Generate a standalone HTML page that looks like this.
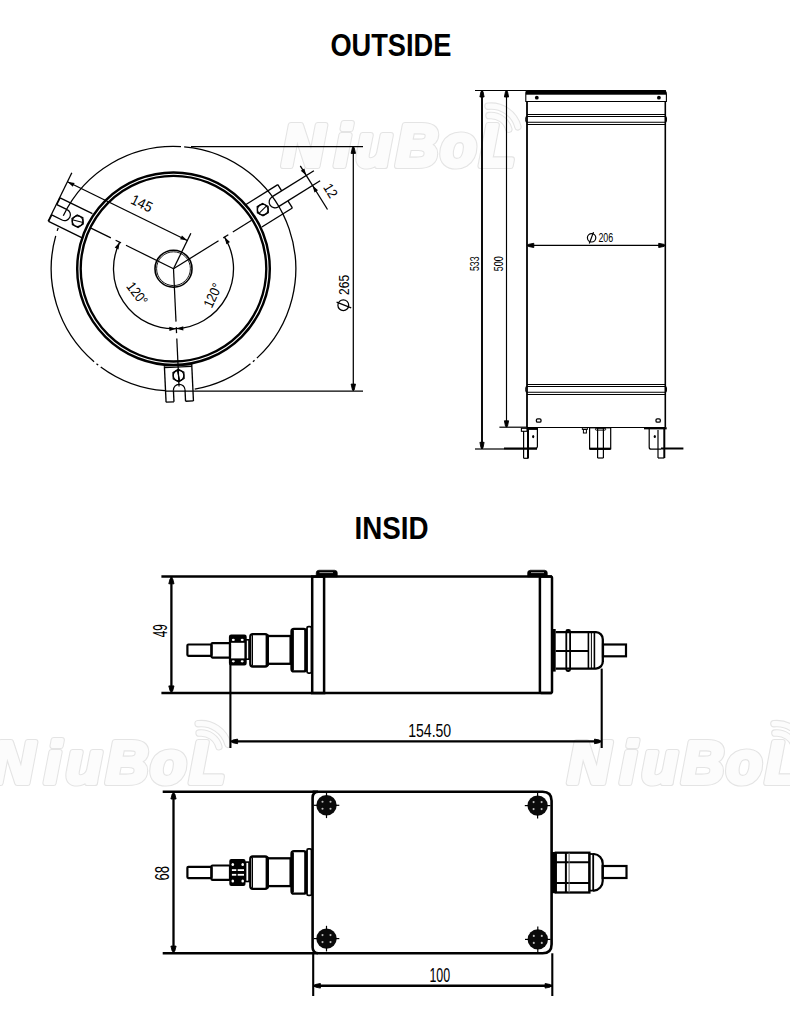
<!DOCTYPE html>
<html><head><meta charset="utf-8"><style>
html,body{margin:0;padding:0;background:#fff;}
svg{display:block;font-family:"Liberation Sans",sans-serif;}
</style></head><body>
<svg width="790" height="1034" viewBox="0 0 790 1034">
<rect width="790" height="1034" fill="#fff"/>
<g stroke="#000" fill="none">
<g>
<path d="M489.0,115.6 A18.5,18.5 0 0 1 508.8,129.2" stroke="#e4e4e4" stroke-width="7.5" fill="none" stroke-linecap="round"/>
<path d="M489.0,115.6 A18.5,18.5 0 0 1 508.8,129.2" stroke="#fcfcfc" stroke-width="5.3" fill="none" stroke-linecap="round"/>
<path d="M488.0,106.2 A28,28 0 0 1 517.9,126.8" stroke="#e4e4e4" stroke-width="7.5" fill="none" stroke-linecap="round"/>
<path d="M488.0,106.2 A28,28 0 0 1 517.9,126.8" stroke="#fcfcfc" stroke-width="5.3" fill="none" stroke-linecap="round"/>
<text x="281.9 334.4 355.9 395.9 440.4 479.4" y="165.5" font-size="58.6" font-weight="bold" font-style="italic" fill="#e4e4e4" stroke="#e4e4e4" stroke-width="6.2" stroke-linejoin="round">NiuBoL</text>
<text x="281.9 334.4 355.9 395.9 440.4 479.4" y="165.5" font-size="58.6" font-weight="bold" font-style="italic" fill="#fcfcfc" stroke="#fcfcfc" stroke-width="4" stroke-linejoin="round">NiuBoL</text>
</g>
<g>
<path d="M199.1,733.1 A18.5,18.5 0 0 1 218.9,746.7" stroke="#e4e4e4" stroke-width="7.5" fill="none" stroke-linecap="round"/>
<path d="M199.1,733.1 A18.5,18.5 0 0 1 218.9,746.7" stroke="#fcfcfc" stroke-width="5.3" fill="none" stroke-linecap="round"/>
<path d="M198.1,723.7 A28,28 0 0 1 228.0,744.3" stroke="#e4e4e4" stroke-width="7.5" fill="none" stroke-linecap="round"/>
<path d="M198.1,723.7 A28,28 0 0 1 228.0,744.3" stroke="#fcfcfc" stroke-width="5.3" fill="none" stroke-linecap="round"/>
<text x="-8.0 44.5 66.0 106.0 150.5 189.5" y="783" font-size="58.6" font-weight="bold" font-style="italic" fill="#e4e4e4" stroke="#e4e4e4" stroke-width="6.2" stroke-linejoin="round">NiuBoL</text>
<text x="-8.0 44.5 66.0 106.0 150.5 189.5" y="783" font-size="58.6" font-weight="bold" font-style="italic" fill="#fcfcfc" stroke="#fcfcfc" stroke-width="4" stroke-linejoin="round">NiuBoL</text>
</g>
<g>
<path d="M774.9,733.1 A18.5,18.5 0 0 1 794.7,746.7" stroke="#e4e4e4" stroke-width="7.5" fill="none" stroke-linecap="round"/>
<path d="M774.9,733.1 A18.5,18.5 0 0 1 794.7,746.7" stroke="#fcfcfc" stroke-width="5.3" fill="none" stroke-linecap="round"/>
<path d="M773.9,723.7 A28,28 0 0 1 803.8,744.3" stroke="#e4e4e4" stroke-width="7.5" fill="none" stroke-linecap="round"/>
<path d="M773.9,723.7 A28,28 0 0 1 803.8,744.3" stroke="#fcfcfc" stroke-width="5.3" fill="none" stroke-linecap="round"/>
<text x="567.8 620.3 641.8 681.8 726.3 765.3" y="783" font-size="58.6" font-weight="bold" font-style="italic" fill="#e4e4e4" stroke="#e4e4e4" stroke-width="6.2" stroke-linejoin="round">NiuBoL</text>
<text x="567.8 620.3 641.8 681.8 726.3 765.3" y="783" font-size="58.6" font-weight="bold" font-style="italic" fill="#fcfcfc" stroke="#fcfcfc" stroke-width="4" stroke-linejoin="round">NiuBoL</text>
</g>
<text x="330.40" y="55.80" font-size="30.5" font-weight="bold" text-anchor="start" textLength="121" lengthAdjust="spacingAndGlyphs"  fill="#000" stroke="none" stroke="#000" stroke-width="0.9">OUTSIDE</text>
<text x="354.60" y="538.60" font-size="30.5" font-weight="bold" text-anchor="start" textLength="74" lengthAdjust="spacingAndGlyphs"  fill="#000" stroke="none" stroke="#000" stroke-width="0.9">INSID</text>
<path d="M184.16,146.87 A122.3,122.3 0 0 1 256.91,358.14" stroke-width="1.3" fill="none" />
<path d="M254.54,360.30 A122.3,122.3 0 0 1 252.93,361.70" stroke-width="1.3" fill="none" />
<path d="M250.47,363.74 A122.3,122.3 0 0 1 194.74,389.14" stroke-width="1.3" fill="none" />
<path d="M164.97,390.70 A122.3,122.3 0 0 1 100.75,367.01" stroke-width="1.3" fill="none" />
<path d="M98.20,365.07 A122.3,122.3 0 0 1 96.53,363.74" stroke-width="1.3" fill="none" />
<path d="M94.07,361.70 A122.3,122.3 0 0 1 55.71,235.81" stroke-width="1.3" fill="none" />
<path d="M57.19,230.91 A122.3,122.3 0 0 1 58.21,227.88" stroke-width="1.3" fill="none" />
<path d="M63.30,215.66 A122.3,122.3 0 0 1 180.97,146.63" stroke-width="1.3" fill="none" />
<circle cx="173.50" cy="268.70" r="96.30" stroke-width="2.45" fill="none" />
<circle cx="173.50" cy="268.70" r="92.80" stroke-width="2.35" fill="none" />
<circle cx="173.50" cy="268.70" r="18.50" stroke-width="1.6" fill="none" />
<circle cx="173.50" cy="268.70" r="16.90" stroke-width="0.9" fill="none" />
<line x1="173.50" y1="268.70" x2="125.95" y2="245.30" stroke-width="1.25" />
<line x1="121.01" y1="242.87" x2="115.63" y2="240.22" stroke-width="1.25" />
<line x1="110.87" y1="237.88" x2="90.95" y2="228.08" stroke-width="1.25" />
<line x1="173.50" y1="268.70" x2="218.54" y2="240.77" stroke-width="1.25" />
<line x1="223.22" y1="237.87" x2="228.32" y2="234.71" stroke-width="1.25" />
<line x1="232.82" y1="231.92" x2="251.69" y2="220.22" stroke-width="1.25" />
<line x1="173.50" y1="268.70" x2="176.00" y2="321.64" stroke-width="1.25" />
<line x1="176.26" y1="327.14" x2="176.54" y2="333.13" stroke-width="1.25" />
<line x1="176.79" y1="338.42" x2="179.06" y2="386.57" stroke-width="1.25" />
<path d="M176.33,328.63 A60,60 0 0 1 119.66,242.21" stroke-width="1.3" fill="none" />
<path d="M224.49,237.08 A60,60 0 0 1 176.33,328.63" stroke-width="1.3" fill="none" />
<path d="M119.66,242.21 L118.46,249.42 L114.69,247.56 Z" fill="#000" stroke="none"/>
<path d="M176.33,328.63 L169.43,331.06 L169.24,326.87 Z" fill="#000" stroke="none"/>
<path d="M224.49,237.08 L229.97,241.93 L226.40,244.14 Z" fill="#000" stroke="none"/>
<path d="M176.33,328.63 L183.22,326.21 L183.42,330.40 Z" fill="#000" stroke="none"/>
<text x="133.40" y="296.50" font-size="14" font-weight="normal" text-anchor="middle" textLength="25" lengthAdjust="spacingAndGlyphs" transform="rotate(53 133.40 296.50)" fill="#000" stroke="none" stroke="#000" stroke-width="0.2">120°</text>
<text x="217.00" y="297.50" font-size="14" font-weight="normal" text-anchor="middle" textLength="25" lengthAdjust="spacingAndGlyphs" transform="rotate(-65 217.00 297.50)" fill="#000" stroke="none" stroke="#000" stroke-width="0.2">120°</text>
<g transform="translate(173.5,268.7) rotate(-32.0)">
<line x1="95.00" y1="-16.00" x2="133.00" y2="-16.00" stroke-width="1.35" />
<line x1="97.00" y1="11.50" x2="133.00" y2="11.50" stroke-width="1.35" />
<line x1="133.00" y1="-16.00" x2="133.00" y2="-8.70" stroke-width="1.35" />
<line x1="133.00" y1="3.10" x2="133.00" y2="11.50" stroke-width="1.35" />
<line x1="121.50" y1="-8.70" x2="171.00" y2="-8.70" stroke-width="1.35" />
<line x1="121.50" y1="3.10" x2="171.00" y2="3.10" stroke-width="1.35" />
<path d="M121.5,-8.7 A5.8999999999999995,5.8999999999999995 0 0 0 121.5,3.1" stroke-width="1.25" fill="none"/>
<polygon points="113.30,-2.80 110.15,2.66 103.85,2.66 100.70,-2.80 103.85,-8.26 110.15,-8.26" stroke-width="1.2" fill="none"/>
<circle cx="107.00" cy="-2.80" r="5.30" stroke-width="1.2" fill="none" />
<line x1="101.50" y1="-1.60" x2="112.50" y2="-4.00" stroke-width="1.0" />
</g>
<g transform="translate(173.5,268.7) rotate(206.1)">
<line x1="95.00" y1="-12.50" x2="133.00" y2="-12.50" stroke-width="1.35" />
<line x1="97.00" y1="13.70" x2="133.00" y2="13.70" stroke-width="1.35" />
<line x1="133.00" y1="-12.50" x2="133.00" y2="-5.30" stroke-width="1.35" />
<line x1="133.00" y1="6.30" x2="133.00" y2="13.70" stroke-width="1.35" />
<line x1="121.50" y1="-5.30" x2="133.00" y2="-5.30" stroke-width="1.35" />
<line x1="121.50" y1="6.30" x2="133.00" y2="6.30" stroke-width="1.35" />
<path d="M121.5,-5.3 A5.8,5.8 0 0 0 121.5,6.3" stroke-width="1.25" fill="none"/>
<polygon points="113.30,0.50 110.15,5.96 103.85,5.96 100.70,0.50 103.85,-4.96 110.15,-4.96" stroke-width="1.2" fill="none"/>
<circle cx="107.00" cy="0.50" r="5.30" stroke-width="1.2" fill="none" />
<line x1="101.50" y1="1.70" x2="112.50" y2="-0.70" stroke-width="1.0" />
</g>
<g transform="translate(173.5,268.7) rotate(87.3)">
<line x1="95.00" y1="-13.70" x2="133.00" y2="-13.70" stroke-width="1.35" />
<line x1="97.00" y1="13.70" x2="133.00" y2="13.70" stroke-width="1.35" />
<line x1="133.00" y1="-13.70" x2="133.00" y2="-5.80" stroke-width="1.35" />
<line x1="133.00" y1="5.80" x2="133.00" y2="13.70" stroke-width="1.35" />
<line x1="96.80" y1="-13.70" x2="96.80" y2="13.70" stroke-width="1.1" />
<line x1="98.40" y1="-13.70" x2="98.40" y2="13.70" stroke-width="1.1" />
<line x1="121.50" y1="-5.80" x2="133.00" y2="-5.80" stroke-width="1.35" />
<line x1="121.50" y1="5.80" x2="133.00" y2="5.80" stroke-width="1.35" />
<path d="M121.5,-5.8 A5.8,5.8 0 0 0 121.5,5.8" stroke-width="1.25" fill="none"/>
<polygon points="113.30,0.00 110.15,5.46 103.85,5.46 100.70,0.00 103.85,-5.46 110.15,-5.46" stroke-width="1.2" fill="none"/>
<circle cx="107.00" cy="0.00" r="5.30" stroke-width="1.2" fill="none" />
<line x1="101.50" y1="1.20" x2="112.50" y2="-1.20" stroke-width="1.0" />
</g>
<line x1="300.29" y1="165.89" x2="327.52" y2="209.48" stroke-width="1.3" />
<path d="M306.27,175.48 L300.78,170.65 L304.34,168.43 Z" fill="#000" stroke="none"/>
<path d="M312.53,185.48 L318.02,190.31 L314.46,192.53 Z" fill="#000" stroke="none"/>
<text x="326.56" y="193.23" font-size="14" font-weight="normal" text-anchor="middle" textLength="14" lengthAdjust="spacingAndGlyphs" transform="rotate(58 326.56 193.23)" fill="#000" stroke="none" stroke="#000" stroke-width="0.3">12</text>
<line x1="48.11" y1="221.19" x2="71.83" y2="172.79" stroke-width="1.3" />
<line x1="173.50" y1="268.70" x2="190.88" y2="233.23" stroke-width="1.3" />
<line x1="187.31" y1="240.50" x2="67.43" y2="181.77" stroke-width="1.3" />
<path d="M67.43,181.77 L74.64,182.98 L72.78,186.74 Z" fill="#000" stroke="none"/>
<path d="M187.31,240.50 L180.11,239.30 L181.96,235.53 Z" fill="#000" stroke="none"/>
<text x="139.60" y="207.80" font-size="14.5" font-weight="normal" text-anchor="middle" textLength="22" lengthAdjust="spacingAndGlyphs" transform="rotate(26 139.60 207.80)" fill="#000" stroke="none" stroke="#000" stroke-width="0.3">145</text>
<line x1="191.00" y1="146.50" x2="363.00" y2="146.50" stroke-width="1.25" />
<line x1="165.00" y1="391.00" x2="363.00" y2="391.00" stroke-width="1.25" />
<line x1="353.30" y1="146.50" x2="353.30" y2="391.00" stroke-width="1.25" />
<polygon points="354.10,147.40 355.50,153.40 351.10,153.40 352.50,147.40" fill="#000" stroke="#000" stroke-width="0.9" stroke-linejoin="round"/>
<polygon points="352.50,390.10 351.10,384.10 355.50,384.10 354.10,390.10" fill="#000" stroke="#000" stroke-width="0.9" stroke-linejoin="round"/>
<text x="349.50" y="294.90" font-size="14.5" font-weight="normal" text-anchor="start" textLength="20" lengthAdjust="spacingAndGlyphs" transform="rotate(-90 349.50 294.90)" fill="#000" stroke="none" stroke="#000" stroke-width="0.3">265</text>
<circle cx="343.30" cy="305.20" r="5.40" stroke-width="1.25" fill="none" />
<line x1="336.60" y1="302.20" x2="351.20" y2="307.90" stroke-width="1.25" />
<line x1="475.00" y1="90.50" x2="526.00" y2="90.50" stroke-width="1.1" />
<line x1="475.00" y1="449.00" x2="504.00" y2="449.00" stroke-width="1.2" />
<line x1="504.00" y1="448.60" x2="537.00" y2="448.60" stroke-width="2.1" />
<line x1="661.00" y1="448.50" x2="683.40" y2="448.50" stroke-width="2.0" />
<line x1="499.40" y1="427.20" x2="527.00" y2="427.20" stroke-width="1.2" />
<line x1="482.00" y1="90.50" x2="482.00" y2="449.00" stroke-width="1.9" />
<polygon points="483.00,91.50 484.10,97.00 479.90,97.00 481.00,91.50" fill="#000" stroke="#000" stroke-width="0.9" stroke-linejoin="round"/>
<polygon points="481.00,447.80 479.90,442.30 484.10,442.30 483.00,447.80" fill="#000" stroke="#000" stroke-width="0.9" stroke-linejoin="round"/>
<line x1="506.50" y1="90.50" x2="506.50" y2="427.30" stroke-width="1.15" />
<polygon points="507.50,91.50 508.60,97.00 504.40,97.00 505.50,91.50" fill="#000" stroke="#000" stroke-width="0.9" stroke-linejoin="round"/>
<polygon points="505.50,426.30 504.40,420.80 508.60,420.80 507.50,426.30" fill="#000" stroke="#000" stroke-width="0.9" stroke-linejoin="round"/>
<text x="478.70" y="271.00" font-size="13.5" font-weight="normal" text-anchor="start" textLength="14.5" lengthAdjust="spacingAndGlyphs" transform="rotate(-90 478.70 271.00)" fill="#000" stroke="none" stroke="#000" stroke-width="0.3">533</text>
<text x="503.00" y="271.20" font-size="13.5" font-weight="normal" text-anchor="start" textLength="15" lengthAdjust="spacingAndGlyphs" transform="rotate(-90 503.00 271.20)" fill="#000" stroke="none" stroke="#000" stroke-width="0.3">500</text>
<path d="M525.8,101.5 L525.8,93 Q525.8,90.6 528.5,90.6 L663,90.6 Q666.4,90.6 666.4,94 L666.4,101.5 Z" stroke-width="1.1" fill="none"/>
<rect x="526.00" y="90.10" width="140.00" height="4.60" rx="0" stroke-width="0" fill="#000" stroke="none"/>
<circle cx="536.80" cy="97.70" r="1.90" stroke-width="0" fill="#000" />
<circle cx="658.90" cy="97.70" r="1.90" stroke-width="0" fill="#000" />
<line x1="527.00" y1="101.50" x2="527.00" y2="427.50" stroke-width="1.8" />
<line x1="665.30" y1="101.50" x2="665.30" y2="427.50" stroke-width="1.6" />
<line x1="527.00" y1="427.50" x2="665.30" y2="427.50" stroke-width="1.1" />
<line x1="527.00" y1="114.50" x2="665.30" y2="114.50" stroke-width="1.1" />
<rect x="525.80" y="116.50" width="140.60" height="5.80" rx="1.5" stroke-width="1.1" fill="none" />
<line x1="527.00" y1="124.50" x2="665.30" y2="124.50" stroke-width="1.1" />
<line x1="527.00" y1="384.50" x2="665.30" y2="384.50" stroke-width="1.1" />
<rect x="525.80" y="386.50" width="140.60" height="5.70" rx="1.5" stroke-width="1.1" fill="none" />
<line x1="527.00" y1="394.50" x2="665.30" y2="394.50" stroke-width="1.1" />
<rect x="536.40" y="418.80" width="4.60" height="3.40" rx="1.2" stroke-width="1.3" fill="none" />
<rect x="656.00" y="418.80" width="4.30" height="3.40" rx="1.2" stroke-width="1.3" fill="none" />
<line x1="527.00" y1="245.40" x2="665.50" y2="245.40" stroke-width="1.2" />
<polygon points="528.30,244.40 533.80,243.30 533.80,247.50 528.30,246.40" fill="#000" stroke="#000" stroke-width="0.9" stroke-linejoin="round"/>
<polygon points="664.20,246.40 658.70,247.50 658.70,243.30 664.20,244.40" fill="#000" stroke="#000" stroke-width="0.9" stroke-linejoin="round"/>
<circle cx="591.60" cy="237.80" r="4.20" stroke-width="1.2" fill="none" />
<line x1="593.50" y1="232.10" x2="589.30" y2="243.50" stroke-width="1.2" />
<text x="598.40" y="241.80" font-size="13.5" font-weight="normal" text-anchor="start" textLength="14.8" lengthAdjust="spacingAndGlyphs"  fill="#000" stroke="none" stroke="#000" stroke-width="0.3">206</text>
<rect x="521.40" y="428.30" width="5.60" height="3.00" rx="0" stroke-width="1.1" fill="none" />
<line x1="523.60" y1="431.00" x2="523.60" y2="458.30" stroke-width="1.2" />
<line x1="523.60" y1="458.30" x2="528.40" y2="458.30" stroke-width="1.2" />
<line x1="528.00" y1="428.00" x2="528.00" y2="458.30" stroke-width="2.0" />
<path d="M529,429.2 L537.4,429.2 L537.4,446.5 Q537.4,448.3 535.6,448.3 L529,448.3" stroke-width="1.2" fill="none" />
<line x1="527.00" y1="428.50" x2="538.00" y2="428.50" stroke-width="2.2" />
<ellipse cx="533.2" cy="436.6" rx="1.1" ry="1.6" fill="#000" stroke="none"/>
<rect x="589.60" y="427.80" width="21.10" height="21.00" rx="0" stroke-width="1.2" fill="none" />
<line x1="589.60" y1="448.80" x2="610.70" y2="448.80" stroke-width="2.3" />
<line x1="597.60" y1="428.00" x2="597.60" y2="458.00" stroke-width="1.2" />
<line x1="603.40" y1="428.00" x2="603.40" y2="458.00" stroke-width="1.2" />
<line x1="597.60" y1="458.00" x2="603.40" y2="458.00" stroke-width="1.2" />
<rect x="595.40" y="428.30" width="10.30" height="1.80" rx="0.8" stroke-width="1.0" fill="none" />
<rect x="582.30" y="427.80" width="5.10" height="1.60" rx="0" stroke-width="0.9" fill="none" />
<rect x="583.40" y="429.40" width="3.00" height="3.60" rx="0" stroke-width="1.0" fill="none" />
<path d="M649.2,428.5 L649.2,447.2 Q649.2,449.2 651.2,449.2 L661,449.2" stroke-width="1.2" fill="none" />
<line x1="658.00" y1="430.00" x2="658.00" y2="458.00" stroke-width="1.2" />
<line x1="664.30" y1="428.00" x2="664.30" y2="458.00" stroke-width="2.0" />
<line x1="658.00" y1="458.00" x2="664.30" y2="458.00" stroke-width="1.2" />
<line x1="644.00" y1="428.30" x2="666.70" y2="428.30" stroke-width="2.1" />
<ellipse cx="654.8" cy="436.5" rx="1.1" ry="1.6" fill="#000" stroke="none"/>
<line x1="161.40" y1="576.60" x2="552.00" y2="576.60" stroke-width="2.5" />
<line x1="161.40" y1="693.10" x2="552.00" y2="693.10" stroke-width="2.5" />
<line x1="171.40" y1="576.60" x2="171.40" y2="693.10" stroke-width="2.3" />
<polygon points="172.70,578.80 174.00,583.80 168.80,583.80 170.10,578.80" fill="#000" stroke="#000" stroke-width="0.9" stroke-linejoin="round"/>
<polygon points="170.10,690.90 168.80,685.90 174.00,685.90 172.70,690.90" fill="#000" stroke="#000" stroke-width="0.9" stroke-linejoin="round"/>
<text x="167.00" y="637.30" font-size="20.5" font-weight="normal" text-anchor="start" textLength="13" lengthAdjust="spacingAndGlyphs" transform="rotate(-90 167.00 637.30)" fill="#000" stroke="none" stroke="#000" stroke-width="0.5">49</text>
<rect x="312.20" y="576.60" width="11.90" height="116.50" rx="0" stroke-width="2.5" fill="none" />
<rect x="539.90" y="576.60" width="12.10" height="116.50" rx="1.5" stroke-width="2.5" fill="none" />
<path d="M316.2,577 L316.2,573 Q316.2,570.2 319,570.2 L334.5,570.2 Q337.3,570.2 337.3,573 L337.3,577 Z" stroke-width="0.6" fill="#000" />
<line x1="319.50" y1="572.60" x2="333.00" y2="572.60" stroke-width="0.6" stroke="#fff"/>
<path d="M527.6,577 L527.6,573 Q527.6,570.2 530.4,570.2 L544.5,570.2 Q547.3,570.2 547.3,573 L547.3,577 Z" stroke-width="0.6" fill="#000" />
<line x1="531.00" y1="572.60" x2="544.00" y2="572.60" stroke-width="0.6" stroke="#fff"/>
<rect x="187.40" y="644.50" width="24.10" height="11.30" rx="1" stroke-width="2.2" fill="none" />
<rect x="211.50" y="643.20" width="18.50" height="14.40" rx="1" stroke-width="2.2" fill="none" />
<rect x="230.00" y="635.60" width="15.60" height="28.90" rx="1.2" stroke-width="2.2" fill="none" />
<rect x="230.00" y="635.60" width="15.60" height="7.20" rx="0" stroke-width="0" fill="#000" />
<rect x="230.00" y="658.40" width="15.60" height="6.10" rx="0" stroke-width="0" fill="#000" />
<ellipse cx="233.3" cy="639.90" rx="1.5" ry="1.1" fill="#fff" stroke="none"/>
<ellipse cx="233.3" cy="661.30" rx="1.5" ry="1.1" fill="#fff" stroke="none"/>
<ellipse cx="242.2" cy="639.90" rx="1.5" ry="1.1" fill="#fff" stroke="none"/>
<ellipse cx="242.2" cy="661.30" rx="1.5" ry="1.1" fill="#fff" stroke="none"/>
<rect x="245.60" y="639.80" width="3.40" height="19.40" rx="0" stroke-width="1.6" fill="none" />
<rect x="250.30" y="634.20" width="17.30" height="32.30" rx="2.5" stroke-width="2.3" fill="none" />
<line x1="252.50" y1="635.10" x2="252.50" y2="665.60" stroke-width="1.0" />
<line x1="267.20" y1="634.60" x2="267.20" y2="666.10" stroke-width="3.2" />
<rect x="267.60" y="636.00" width="23.00" height="27.80" rx="0" stroke-width="2.3" fill="none" />
<rect x="291.50" y="628.90" width="14.60" height="42.50" rx="2.5" stroke-width="2.3" fill="none" />
<line x1="292.50" y1="630.10" x2="292.50" y2="670.10" stroke-width="2.8" />
<line x1="305.60" y1="629.60" x2="305.60" y2="670.60" stroke-width="2.8" />
<rect x="307.00" y="626.60" width="4.50" height="46.50" rx="1.5" stroke-width="1.8" fill="none" />
<rect x="552.50" y="629.00" width="3.20" height="42.60" rx="0" stroke-width="0" fill="#000" stroke="none"/>
<path d="M555.7,632.1999999999999 L596,632.1999999999999 A7,7 0 0 1 602.8,639.4 L602.8,661.4 A7,7 0 0 1 596,668.6 L555.7,668.6" stroke-width="2.3" fill="none" />
<rect x="566.30" y="630.00" width="3.80" height="41.00" rx="1.5" stroke-width="1.8" fill="none" />
<line x1="555.70" y1="651.10" x2="588.40" y2="651.10" stroke-width="2.0" />
<line x1="588.40" y1="632.20" x2="588.40" y2="668.60" stroke-width="1.6" />
<line x1="591.40" y1="632.20" x2="591.40" y2="668.60" stroke-width="1.0" />
<line x1="594.40" y1="632.20" x2="594.40" y2="668.60" stroke-width="1.6" />
<rect x="603.00" y="644.50" width="23.00" height="11.80" rx="0" stroke-width="2.2" fill="none" />
<line x1="230.40" y1="664.00" x2="230.40" y2="748.00" stroke-width="2.1" />
<line x1="601.70" y1="668.60" x2="601.70" y2="748.00" stroke-width="2.1" />
<line x1="230.40" y1="741.40" x2="601.70" y2="741.40" stroke-width="2.4" />
<polygon points="232.60,740.10 237.60,739.10 237.60,743.70 232.60,742.70" fill="#000" stroke="#000" stroke-width="0.9" stroke-linejoin="round"/>
<polygon points="599.50,742.70 594.50,743.70 594.50,739.10 599.50,740.10" fill="#000" stroke="#000" stroke-width="0.9" stroke-linejoin="round"/>
<text x="408.20" y="736.50" font-size="19" font-weight="normal" text-anchor="start" textLength="43" lengthAdjust="spacingAndGlyphs"  fill="#000" stroke="none" stroke="#000" stroke-width="0.4">154.50</text>
<line x1="162.70" y1="791.80" x2="318.00" y2="791.80" stroke-width="2.6" />
<line x1="162.70" y1="953.30" x2="318.00" y2="953.30" stroke-width="2.6" />
<path d="M312.6,791.8 L542.6,791.8 Q551.6,791.8 551.6,800.8 L551.6,944.3 Q551.6,953.3 542.6,953.3 L318.6,953.3 Q312.6,953.3 312.6,947.3 L312.6,797.8 Q312.6,791.8 318.6,791.8" stroke-width="2.6" fill="none" />
<line x1="173.50" y1="791.80" x2="173.50" y2="953.30" stroke-width="2.3" />
<polygon points="174.80,794.00 176.10,799.00 170.90,799.00 172.20,794.00" fill="#000" stroke="#000" stroke-width="0.9" stroke-linejoin="round"/>
<polygon points="172.20,951.10 170.90,946.10 176.10,946.10 174.80,951.10" fill="#000" stroke="#000" stroke-width="0.9" stroke-linejoin="round"/>
<text x="168.80" y="880.60" font-size="20" font-weight="normal" text-anchor="start" textLength="14.7" lengthAdjust="spacingAndGlyphs" transform="rotate(-90 168.80 880.60)" fill="#000" stroke="none" stroke="#000" stroke-width="0.5">68</text>
<circle cx="326.50" cy="805.30" r="10.20" stroke-width="0" fill="#0a0a0a" />
<circle cx="322.50" cy="801.80" r="1.05" stroke-width="0" fill="#bbb" />
<circle cx="330.50" cy="801.80" r="1.05" stroke-width="0" fill="#bbb" />
<circle cx="322.50" cy="808.80" r="1.05" stroke-width="0" fill="#bbb" />
<circle cx="330.50" cy="808.80" r="1.05" stroke-width="0" fill="#bbb" />
<line x1="326.50" y1="792.50" x2="326.50" y2="796.30" stroke-width="1.2" />
<line x1="326.50" y1="814.30" x2="326.50" y2="818.10" stroke-width="1.2" />
<line x1="313.70" y1="805.30" x2="317.50" y2="805.30" stroke-width="1.2" />
<line x1="335.50" y1="805.30" x2="339.30" y2="805.30" stroke-width="1.2" />
<circle cx="326.50" cy="938.60" r="10.20" stroke-width="0" fill="#0a0a0a" />
<circle cx="322.50" cy="935.10" r="1.05" stroke-width="0" fill="#bbb" />
<circle cx="330.50" cy="935.10" r="1.05" stroke-width="0" fill="#bbb" />
<circle cx="322.50" cy="942.10" r="1.05" stroke-width="0" fill="#bbb" />
<circle cx="330.50" cy="942.10" r="1.05" stroke-width="0" fill="#bbb" />
<line x1="326.50" y1="925.80" x2="326.50" y2="929.60" stroke-width="1.2" />
<line x1="326.50" y1="947.60" x2="326.50" y2="951.40" stroke-width="1.2" />
<line x1="313.70" y1="938.60" x2="317.50" y2="938.60" stroke-width="1.2" />
<line x1="335.50" y1="938.60" x2="339.30" y2="938.60" stroke-width="1.2" />
<circle cx="537.60" cy="805.60" r="10.20" stroke-width="0" fill="#0a0a0a" />
<circle cx="533.60" cy="802.10" r="1.05" stroke-width="0" fill="#bbb" />
<circle cx="541.60" cy="802.10" r="1.05" stroke-width="0" fill="#bbb" />
<circle cx="533.60" cy="809.10" r="1.05" stroke-width="0" fill="#bbb" />
<circle cx="541.60" cy="809.10" r="1.05" stroke-width="0" fill="#bbb" />
<line x1="537.60" y1="792.80" x2="537.60" y2="796.60" stroke-width="1.2" />
<line x1="537.60" y1="814.60" x2="537.60" y2="818.40" stroke-width="1.2" />
<line x1="524.80" y1="805.60" x2="528.60" y2="805.60" stroke-width="1.2" />
<line x1="546.60" y1="805.60" x2="550.40" y2="805.60" stroke-width="1.2" />
<circle cx="537.80" cy="939.40" r="10.20" stroke-width="0" fill="#0a0a0a" />
<circle cx="533.80" cy="935.90" r="1.05" stroke-width="0" fill="#bbb" />
<circle cx="541.80" cy="935.90" r="1.05" stroke-width="0" fill="#bbb" />
<circle cx="533.80" cy="942.90" r="1.05" stroke-width="0" fill="#bbb" />
<circle cx="541.80" cy="942.90" r="1.05" stroke-width="0" fill="#bbb" />
<line x1="537.80" y1="926.60" x2="537.80" y2="930.40" stroke-width="1.2" />
<line x1="537.80" y1="948.40" x2="537.80" y2="952.20" stroke-width="1.2" />
<line x1="525.00" y1="939.40" x2="528.80" y2="939.40" stroke-width="1.2" />
<line x1="546.80" y1="939.40" x2="550.60" y2="939.40" stroke-width="1.2" />
<rect x="187.40" y="866.80" width="24.10" height="11.30" rx="1" stroke-width="2.2" fill="none" />
<rect x="211.50" y="865.50" width="18.50" height="14.40" rx="1" stroke-width="2.2" fill="none" />
<rect x="229.30" y="858.90" width="16.20" height="27.10" rx="2" stroke-width="0" fill="#000" />
<ellipse cx="232.8" cy="864.50" rx="1.3" ry="1.5" fill="#fff" stroke="none"/>
<ellipse cx="232.8" cy="880.90" rx="1.3" ry="1.5" fill="#fff" stroke="none"/>
<ellipse cx="242.7" cy="864.50" rx="1.3" ry="1.5" fill="#fff" stroke="none"/>
<ellipse cx="242.7" cy="880.90" rx="1.3" ry="1.5" fill="#fff" stroke="none"/>
<rect x="231.90" y="869.20" width="4.40" height="1.80" rx="0" stroke-width="0" fill="#fff" />
<rect x="237.70" y="869.20" width="6.30" height="1.80" rx="0" stroke-width="0" fill="#fff" />
<rect x="231.90" y="873.90" width="4.40" height="1.80" rx="0" stroke-width="0" fill="#fff" />
<rect x="237.70" y="873.90" width="6.30" height="1.80" rx="0" stroke-width="0" fill="#fff" />
<rect x="245.60" y="862.10" width="3.40" height="19.40" rx="0" stroke-width="1.6" fill="none" />
<rect x="250.30" y="856.50" width="17.30" height="32.30" rx="2.5" stroke-width="2.3" fill="none" />
<line x1="252.50" y1="857.40" x2="252.50" y2="887.90" stroke-width="1.0" />
<line x1="267.20" y1="856.90" x2="267.20" y2="888.40" stroke-width="3.2" />
<rect x="267.60" y="858.30" width="23.00" height="27.80" rx="0" stroke-width="2.3" fill="none" />
<rect x="291.50" y="851.20" width="14.60" height="42.50" rx="2.5" stroke-width="2.3" fill="none" />
<line x1="292.50" y1="852.40" x2="292.50" y2="892.40" stroke-width="2.8" />
<line x1="305.60" y1="851.90" x2="305.60" y2="892.90" stroke-width="2.8" />
<rect x="307.00" y="848.90" width="4.50" height="46.50" rx="1.5" stroke-width="1.8" fill="none" />
<rect x="552.00" y="852.00" width="3.80" height="41.20" rx="0" stroke-width="0" fill="#000" stroke="none"/>
<rect x="555.80" y="852.70" width="33.60" height="39.80" rx="0" stroke-width="2.3" fill="none" />
<line x1="555.80" y1="862.20" x2="589.40" y2="862.20" stroke-width="2.0" />
<line x1="555.80" y1="883.00" x2="589.40" y2="883.00" stroke-width="2.0" />
<line x1="565.90" y1="852.70" x2="565.90" y2="892.50" stroke-width="2.0" />
<line x1="569.10" y1="852.70" x2="569.10" y2="892.50" stroke-width="1.1" stroke="#666"/>
<rect x="589.40" y="854.00" width="3.80" height="36.60" rx="0" stroke-width="1.8" fill="none" />
<path d="M593.2,854.0 L594,854.0 A9.5,9.5 0 0 1 602.7,863.5 L602.7,881.1 A9.5,9.5 0 0 1 594,890.6 L593.2,890.6" stroke-width="2.2" fill="none" />
<rect x="602.70" y="866.00" width="23.80" height="12.00" rx="0" stroke-width="2.2" fill="none" />
<line x1="313.20" y1="953.30" x2="313.20" y2="996.00" stroke-width="2.1" />
<line x1="552.30" y1="953.30" x2="552.30" y2="996.00" stroke-width="2.1" />
<line x1="313.20" y1="985.80" x2="552.30" y2="985.80" stroke-width="2.4" />
<polygon points="315.40,984.50 320.40,983.50 320.40,988.10 315.40,987.10" fill="#000" stroke="#000" stroke-width="0.9" stroke-linejoin="round"/>
<polygon points="550.10,987.10 545.10,988.10 545.10,983.50 550.10,984.50" fill="#000" stroke="#000" stroke-width="0.9" stroke-linejoin="round"/>
<text x="429.40" y="981.50" font-size="19.5" font-weight="normal" text-anchor="start" textLength="20.7" lengthAdjust="spacingAndGlyphs"  fill="#000" stroke="none" stroke="#000" stroke-width="0.4">100</text>
</g>
</svg>
</body></html>
